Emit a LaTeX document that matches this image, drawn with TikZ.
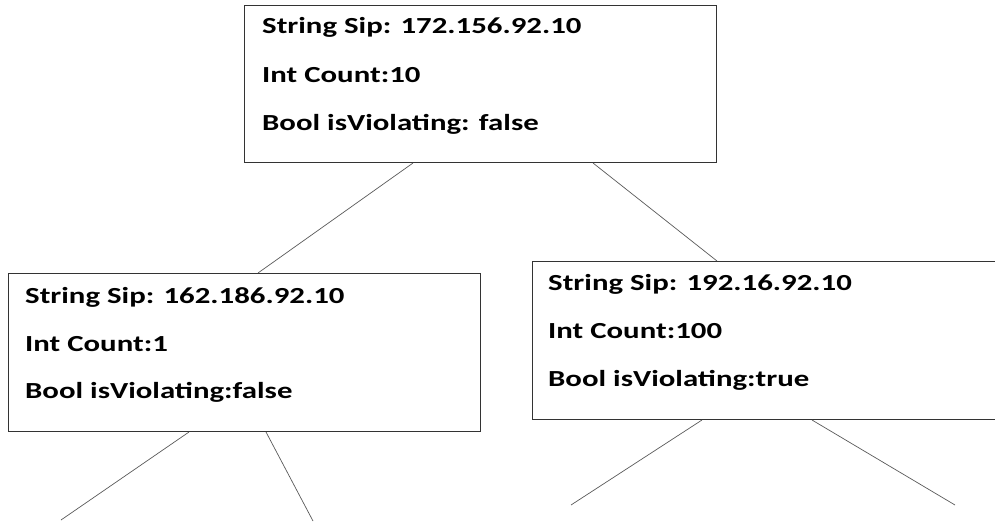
\documentclass[tikz,border=0pt]{standalone}
\usepackage{fontspec}
\usepackage{graphicx}
\setmainfont{Carlito}
\usetikzlibrary{positioning}

\newcommand{\wide}[1]{\scalebox{1.34}[1]{#1}}

\tikzset{
  rec/.style={draw=black!80, line width=1pt, rectangle, anchor=north west, inner sep=0pt},
  fld/.style={anchor=base west, inner sep=0pt, font=\bfseries\fontsize{23}{28}\selectfont},
  edge/.style={draw=black!65, line width=0.7pt}
}

\begin{document}
\begin{tikzpicture}[x=1pt,y=-1pt]
\clip (0,0) rectangle (995,525);

% boxes
\node[rec, minimum width=472pt, minimum height=157pt] (root) at (244,5) {};
\node[rec, minimum width=472pt, minimum height=158pt] (lft) at (8,273) {};
\node[rec, minimum width=470pt, minimum height=158pt] (rgt) at (532,261) {};

% fields
\node[fld] (root-sip) at (262,33) {\wide{String Sip: 172.156.92.10}};
\node[fld] (root-cnt) at (262,82) {\wide{Int Count:10}};
\node[fld] (root-flag) at (262,130) {\wide{Bool isViolating: false}};

\node[fld] (lft-sip) at (25,303) {\wide{String Sip: 162.186.92.10}};
\node[fld] (lft-cnt) at (25,351) {\wide{Int Count:1}};
\node[fld] (lft-flag) at (25,398) {\wide{Bool isViolating:false}};

\node[fld] (rgt-sip) at (548,290) {\wide{String Sip: 192.16.92.10}};
\node[fld] (rgt-cnt) at (548,338) {\wide{Int Count:100}};
\node[fld] (rgt-flag) at (548,386) {\wide{Bool isViolating:true}};

% loose ends
\coordinate (ll) at (61,520);
\coordinate (lr) at (313,521);
\coordinate (rl) at (571,505);
\coordinate (rr) at (955,505);

% edges
\draw[edge] ([xshift=169pt]root.south west) -- ([xshift=250pt]lft.north west);
\draw[edge] ([xshift=349pt]root.south west) -- ([xshift=185pt]rgt.north west);
\draw[edge] ([xshift=181pt]lft.south west) -- (ll);
\draw[edge] ([xshift=258pt]lft.south west) -- (lr);
\draw[edge] ([xshift=170pt]rgt.south west) -- (rl);
\draw[edge] ([xshift=280pt]rgt.south west) -- (rr);
\end{tikzpicture}
\end{document}
